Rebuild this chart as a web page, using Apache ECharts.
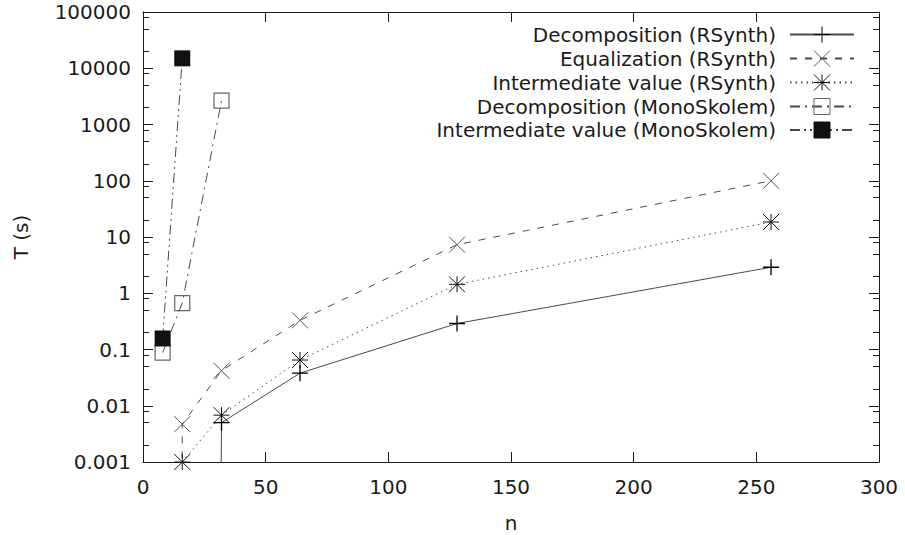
<!DOCTYPE html>
<html>
<head>
<meta charset="utf-8">
<title>T vs n</title>
<script src="https://cdn.jsdelivr.net/npm/echarts@6/dist/echarts.min.js"></script>
<style>
  html, body { margin: 0; padding: 0; background: #fff; }
  #chart { width: 905px; height: 535px; }
</style>
</head>
<body>
<div id="chart"></div>
<script>
// values; a "0 s" point cannot sit on a log axis,
// so a tiny value stands in for it (its line drops straight to the floor)
const ZERO = 1e-100;

const decompRSynthN = [16, 32, 64, 128, 256];
const decompRSynthT = [ZERO, 0.005, 0.038, 0.29, 2.9];

const equalRSynthN = [8, 16, 32, 64, 128, 256];
const equalRSynthT = [ZERO, 0.0047, 0.042, 0.33, 7.3, 100];

const interRSynthN = [16, 32, 64, 128, 256];
const interRSynthT = [0.001, 0.0068, 0.065, 1.44, 18.5];

const decompMonoN = [8, 16, 32];
const decompMonoT = [0.088, 0.67, 2650];

const interMonoN = [8, 16];
const interMonoT = [0.157, 15000];

const yTickLabels = ['0.001', '0.01', '0.1', '1', '10', '100', '1000', '10000', '100000'];
const yMinorSteps = [2, 5, 8];

const FONT = 'DejaVu Sans';
const FS = 20;
const INK = '#1a1a1a';
const LINE = '#4a4a4a';

// minor tick positions, in decades (for the helper value axes)
const minorTicks = [];
for (let d = -3; d < 5; d++) {
  yMinorSteps.forEach(s => minorTicks.push(d + Math.log10(s)));
}

function pairs(xs, ys) {
  return xs.map((x, i) => [x, ys[i]]);
}

const plusPath = 'path://M0 5L10 5M5 0L5 10';
const crossPath = 'path://M0 0L10 10M10 0L0 10';
const starPath = 'path://M0 5L10 5M5 0L5 10M0 0L10 10M10 0L0 10';

// svg renderer: tick strokes keep their own colour
const chart = echarts.init(document.getElementById('chart'), null, { renderer: 'svg' });

function line() {
  return { show: true, onZero: false, lineStyle: { color: INK, width: 1 } };
}
function ticks(len, extra) {
  return Object.assign({ show: true, inside: true, length: len, lineStyle: { color: INK, width: 1 } }, extra || {});
}

chart.setOption({
  backgroundColor: '#fff',
  animation: false,
  textStyle: { fontFamily: FONT },
  grid: { left: 143, top: 12, width: 736, height: 450, containLabel: false, outerBoundsMode: 'none' },
  legend: {
    orient: 'vertical',
    right: 45,
    top: 19,
    align: 'right',
    itemWidth: 64,
    itemHeight: 20,
    itemGap: 3,
    selectedMode: false,
    itemStyle: { borderWidth: 1 },
    textStyle: { fontSize: FS, color: INK, fontFamily: FONT, padding: [0, 9, 0, 0] },
  },
  xAxis: [
    {
      type: 'value', min: 0, max: 300, interval: 50, position: 'bottom',
      axisLine: line(), splitLine: { show: false },
      axisTick: ticks(10),
      axisLabel: { fontSize: FS, color: INK, margin: 15, fontFamily: FONT },
      name: 'n', nameLocation: 'middle', nameGap: 51,
      nameTextStyle: { fontSize: FS, color: INK, fontFamily: FONT },
    },
    {
      type: 'value', min: 0, max: 300, interval: 50, position: 'top',
      axisLine: line(), splitLine: { show: false },
      axisTick: ticks(10),
      axisLabel: { show: false },
    },
  ],
  yAxis: [
    {
      type: 'log', logBase: 10, min: 0.001, max: 100000, interval: 1, splitNumber: 8,
      position: 'left',
      axisLine: line(), splitLine: { show: false },
      axisTick: ticks(10),
      axisLabel: {
        fontSize: FS, color: INK, margin: 12, fontFamily: FONT,
        formatter: v => yTickLabels[Math.round(Math.log10(v)) + 3],
      },
      name: 'T (s)', nameLocation: 'middle', nameGap: 112,
      nameTextStyle: { fontSize: FS, color: INK, fontFamily: FONT },
    },
    {
      type: 'log', logBase: 10, min: 0.001, max: 100000, interval: 1, splitNumber: 8,
      position: 'right',
      axisLine: line(), splitLine: { show: false },
      axisTick: ticks(10),
      axisLabel: { show: false },
    },
    {
      type: 'value', min: -3, max: 5, position: 'left',
      axisLine: { show: false, onZero: false }, splitLine: { show: false }, axisLabel: { show: false },
      axisTick: ticks(6, { customValues: minorTicks }),
    },
    {
      type: 'value', min: -3, max: 5, position: 'right',
      axisLine: { show: false, onZero: false }, splitLine: { show: false }, axisLabel: { show: false },
      axisTick: ticks(6, { customValues: minorTicks }),
    },
  ],
  series: [
    {
      name: 'Decomposition (RSynth)',
      type: 'line',
      data: pairs(decompRSynthN, decompRSynthT),
      symbol: plusPath, symbolSize: 16,
      itemStyle: { color: 'none', borderColor: '#000', borderWidth: 1.3 },
      lineStyle: { color: LINE, width: 1, type: 'solid' },
    },
    {
      name: 'Equalization (RSynth)',
      type: 'line',
      data: pairs(equalRSynthN, equalRSynthT),
      symbol: crossPath, symbolSize: 16,
      itemStyle: { color: 'none', borderColor: '#555', borderWidth: 1 },
      lineStyle: { color: LINE, width: 1, type: [7, 8] },
    },
    {
      name: 'Intermediate value (RSynth)',
      type: 'line',
      data: pairs(interRSynthN, interRSynthT),
      symbol: starPath, symbolSize: 16,
      itemStyle: { color: 'none', borderColor: '#111', borderWidth: 1 },
      lineStyle: { color: LINE, width: 1, type: [1.5, 4] },
    },
    {
      name: 'Decomposition (MonoSkolem)',
      type: 'line',
      data: pairs(decompMonoN, decompMonoT),
      symbol: 'rect', symbolSize: 15,
      itemStyle: { color: 'none', borderColor: '#666', borderWidth: 1.2 },
      lineStyle: { color: LINE, width: 1, type: [10, 5, 2, 5] },
    },
    {
      name: 'Intermediate value (MonoSkolem)',
      type: 'line',
      data: pairs(interMonoN, interMonoT),
      symbol: 'rect', symbolSize: 16,
      itemStyle: { color: '#111', borderColor: '#111', borderWidth: 0 },
      lineStyle: { color: LINE, width: 1, type: [10, 4, 2, 4, 2, 4] },
    },
  ],
});
</script>
</body>
</html>
